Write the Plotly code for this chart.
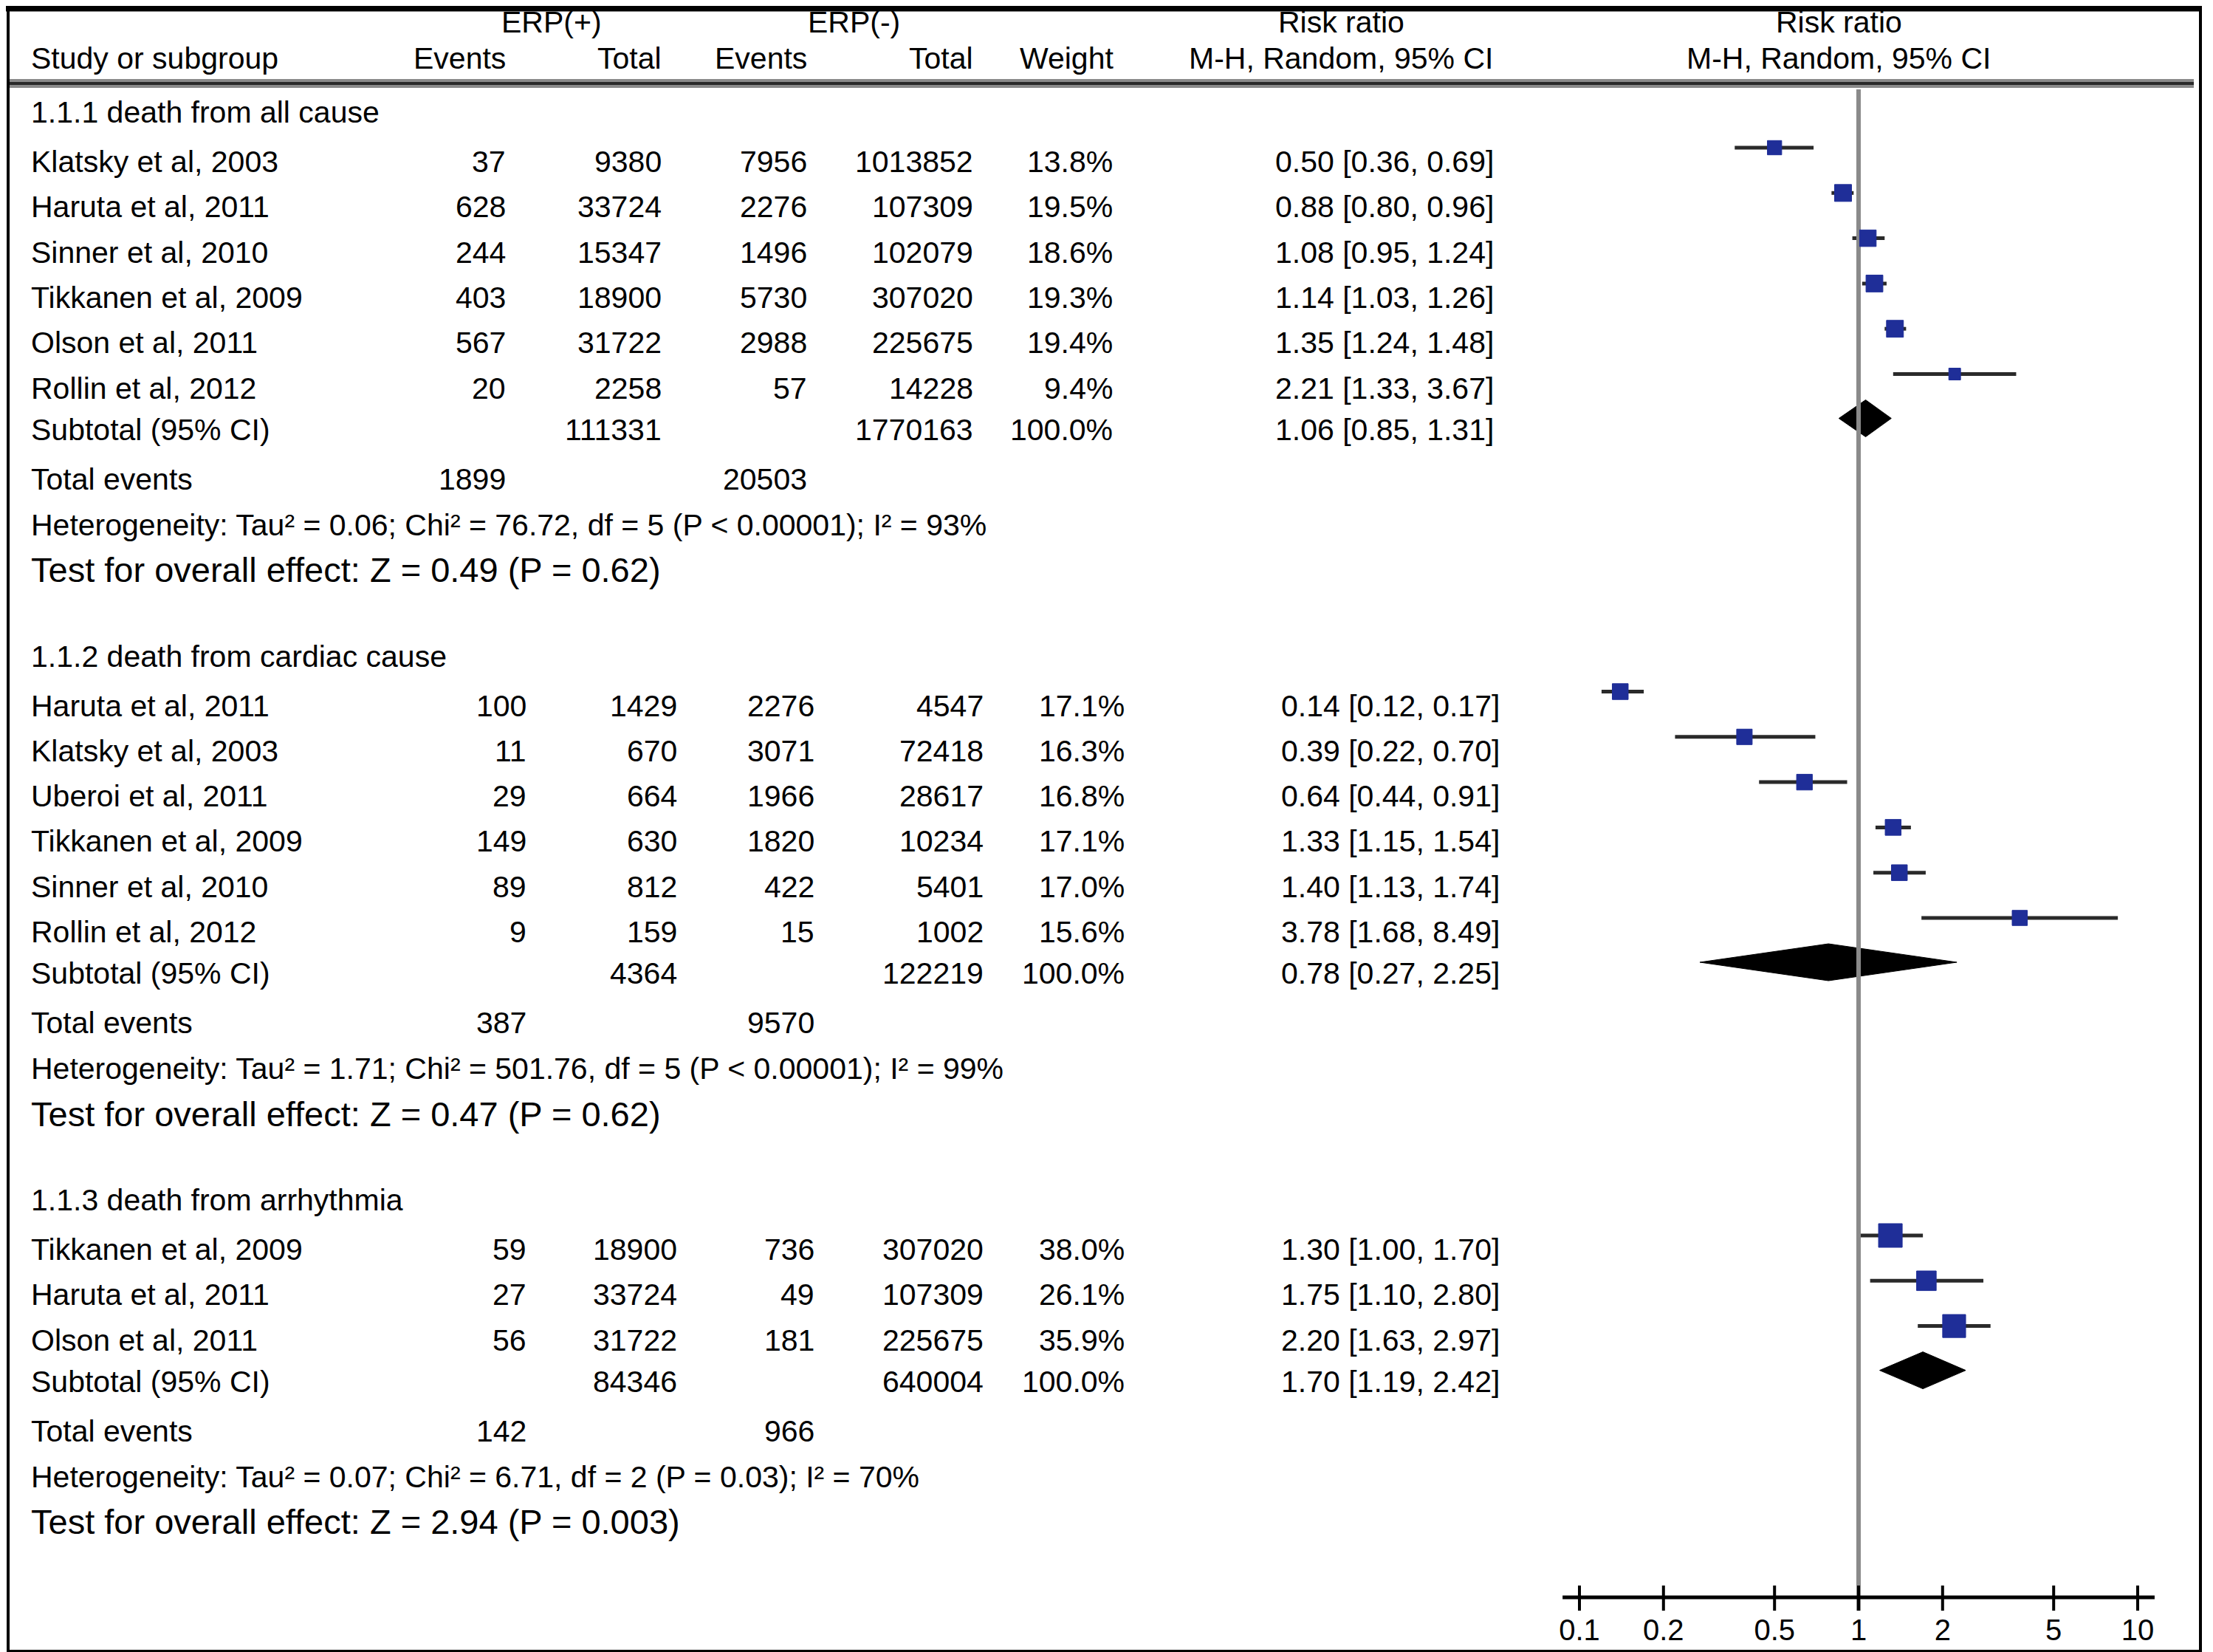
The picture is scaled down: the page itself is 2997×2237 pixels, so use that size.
import math
import plotly.graph_objects as go

# ---------------- data ----------------
group_titles = ["1.1.1 death from all cause",
                "1.1.2 death from cardiac cause",
                "1.1.3 death from arrhythmia"]

g1_studies = ["Klatsky et al, 2003", "Haruta et al, 2011", "Sinner et al, 2010",
              "Tikkanen et al, 2009", "Olson et al, 2011", "Rollin et al, 2012"]
g1_ev_pos = [37, 628, 244, 403, 567, 20]
g1_tot_pos = [9380, 33724, 15347, 18900, 31722, 2258]
g1_ev_neg = [7956, 2276, 1496, 5730, 2988, 57]
g1_tot_neg = [1013852, 107309, 102079, 307020, 225675, 14228]
g1_weight = [13.8, 19.5, 18.6, 19.3, 19.4, 9.4]
g1_rr = [0.50, 0.88, 1.08, 1.14, 1.35, 2.21]
g1_lo = [0.36, 0.80, 0.95, 1.03, 1.24, 1.33]
g1_hi = [0.69, 0.96, 1.24, 1.26, 1.48, 3.67]

g2_studies = ["Haruta et al, 2011", "Klatsky et al, 2003", "Uberoi et al, 2011",
              "Tikkanen et al, 2009", "Sinner et al, 2010", "Rollin et al, 2012"]
g2_ev_pos = [100, 11, 29, 149, 89, 9]
g2_tot_pos = [1429, 670, 664, 630, 812, 159]
g2_ev_neg = [2276, 3071, 1966, 1820, 422, 15]
g2_tot_neg = [4547, 72418, 28617, 10234, 5401, 1002]
g2_weight = [17.1, 16.3, 16.8, 17.1, 17.0, 15.6]
g2_rr = [0.14, 0.39, 0.64, 1.33, 1.40, 3.78]
g2_lo = [0.12, 0.22, 0.44, 1.15, 1.13, 1.68]
g2_hi = [0.17, 0.70, 0.91, 1.54, 1.74, 8.49]

g3_studies = ["Tikkanen et al, 2009", "Haruta et al, 2011", "Olson et al, 2011"]
g3_ev_pos = [59, 27, 56]
g3_tot_pos = [18900, 33724, 31722]
g3_ev_neg = [736, 49, 181]
g3_tot_neg = [307020, 107309, 225675]
g3_weight = [38.0, 26.1, 35.9]
g3_rr = [1.30, 1.75, 2.20]
g3_lo = [1.00, 1.10, 1.63]
g3_hi = [1.70, 2.80, 2.97]

sub_tot_pos = [111331, 4364, 84346]
sub_tot_neg = [1770163, 122219, 640004]
sub_weight = [100.0, 100.0, 100.0]
sub_rr = [1.06, 0.78, 1.70]
sub_lo = [0.85, 0.27, 1.19]
sub_hi = [1.31, 2.25, 2.42]
total_ev_pos = [1899, 387, 142]
total_ev_neg = [20503, 9570, 966]
het_tau2 = ["0.06", "1.71", "0.07"]
het_chi2 = ["76.72", "501.76", "6.71"]
het_df = [5, 5, 2]
het_p = ["P &lt; 0.00001", "P &lt; 0.00001", "P = 0.03"]
het_i2 = [93, 99, 70]
test_z = ["0.49", "0.47", "2.94"]
test_p = ["0.62", "0.62", "0.003"]

tick_vals = [0.1, 0.2, 0.5, 1, 2, 5, 10]
tick_labels = ["0.1", "0.2", "0.5", "1", "2", "5", "10"]

# ---------------- layout constants ----------------
W, H = 2997, 2237
FONT = "Liberation Sans, Arial, sans-serif"
FS = 41
FS_TEST = 47
BLUE = "#1f2e98"
X_ONE = 2509      # pixel position of RR = 1
DECADE = 378      # pixels per decade

# column right edges: group 1 and groups 2/3 are slightly shifted in the source
cols_a = dict(name=32, evp=679, totp=890, evn=1087, totn=1312, wt=1501, ci=2017)
cols_b = dict(name=32, evp=707, totp=911, evn=1097, totn=1326, wt=1517, ci=2025)

groups = [
    dict(studies=g1_studies, evp=g1_ev_pos, totp=g1_tot_pos, evn=g1_ev_neg, totn=g1_tot_neg,
         wt=g1_weight, rr=g1_rr, lo=g1_lo, hi=g1_hi, cols=cols_a),
    dict(studies=g2_studies, evp=g2_ev_pos, totp=g2_tot_pos, evn=g2_ev_neg, totn=g2_tot_neg,
         wt=g2_weight, rr=g2_rr, lo=g2_lo, hi=g2_hi, cols=cols_b),
    dict(studies=g3_studies, evp=g3_ev_pos, totp=g3_tot_pos, evn=g3_ev_neg, totn=g3_tot_neg,
         wt=g3_weight, rr=g3_rr, lo=g3_lo, hi=g3_hi, cols=cols_b),
]

ann = []


def txt(x, y, s, anchor="left", size=FS):
    ann.append(dict(x=x, y=y, xref="x", yref="y", text=s, showarrow=False,
                    xanchor=anchor, yanchor="middle",
                    font=dict(size=size, color="black", family=FONT)))


def ci_text(r, l, h):
    return f"{r:.2f} [{l:.2f}, {h:.2f}]"


fig = go.Figure()

# header
HY1, HY2 = 22, 71
txt(739, HY1, "ERP(+)", "center")
txt(1148, HY1, "ERP(-)", "center")
txt(1808, HY1, "Risk ratio", "center")
txt(2482, HY1, "Risk ratio", "center")
txt(32, HY2, "Study or subgroup")
txt(679, HY2, "Events", "right")
txt(890, HY2, "Total", "right")
txt(1087, HY2, "Events", "right")
txt(1312, HY2, "Total", "right")
txt(1502, HY2, "Weight", "right")
txt(2016, HY2, "M-H, Random, 95% CI", "right")
txt(2482, HY2, "M-H, Random, 95% CI", "center")

MARK_OFF = 19
y = 144.0
for gi, g in enumerate(groups):
    c = g["cols"]
    txt(c["name"], y, group_titles[gi])
    ys = [y + 67 + 61.3 * i for i in range(len(g["studies"]))]
    for i, yy in enumerate(ys):
        txt(c["name"], yy, g["studies"][i])
        txt(c["evp"], yy, str(g["evp"][i]), "right")
        txt(c["totp"], yy, str(g["totp"][i]), "right")
        txt(c["evn"], yy, str(g["evn"][i]), "right")
        txt(c["totn"], yy, str(g["totn"][i]), "right")
        txt(c["wt"], yy, f"{g['wt'][i]:.1f}%", "right")
        txt(c["ci"], yy, ci_text(g["rr"][i], g["lo"][i], g["hi"][i]), "right")
    ysub = ys[-1] + 56
    txt(c["name"], ysub, "Subtotal (95% CI)")
    txt(c["totp"], ysub, str(sub_tot_pos[gi]), "right")
    txt(c["totn"], ysub, str(sub_tot_neg[gi]), "right")
    txt(c["wt"], ysub, f"{sub_weight[gi]:.1f}%", "right")
    txt(c["ci"], ysub, ci_text(sub_rr[gi], sub_lo[gi], sub_hi[gi]), "right")
    ytot = ysub + 67
    txt(c["name"], ytot, "Total events")
    txt(c["evp"], ytot, str(total_ev_pos[gi]), "right")
    txt(c["evn"], ytot, str(total_ev_neg[gi]), "right")
    yhet = ytot + 62
    txt(c["name"], yhet,
        f"Heterogeneity: Tau² = {het_tau2[gi]}; Chi² = {het_chi2[gi]}, "
        f"df = {het_df[gi]} ({het_p[gi]}); I² = {het_i2[gi]}%")
    ytest = yhet + 61
    txt(c["name"], ytest, f"Test for overall effect: Z = {test_z[gi]} (P = {test_p[gi]})",
        size=FS_TEST)

    # forest: CI lines
    ym = [v - MARK_OFF for v in ys]
    lx, ly = [], []
    for i in range(len(ys)):
        lx += [g["lo"][i], g["hi"][i], None]
        ly += [ym[i], ym[i], None]
    fig.add_trace(go.Scatter(x=lx, y=ly, mode="lines", xaxis="x2", yaxis="y",
                             line=dict(color="#2a2a2a", width=5), hoverinfo="skip"))
    g["ym"] = ym
    # diamond
    yc = ysub - 15
    hh = 25
    fig.add_trace(go.Scatter(
        x=[sub_lo[gi], sub_rr[gi], sub_hi[gi], sub_rr[gi], sub_lo[gi]],
        y=[yc, yc - hh, yc, yc + hh, yc],
        mode="lines", fill="toself", fillcolor="black",
        line=dict(color="black", width=1), xaxis="x2", yaxis="y", hoverinfo="skip"))
    y = ytest + 117

# line of no effect
AXIS_Y = 2155
fig.add_trace(go.Scatter(x=[1, 1], y=[113, AXIS_Y + 18], mode="lines", xaxis="x2", yaxis="y",
                         line=dict(color="#8a8a8a", width=6), hoverinfo="skip"))

# study markers
for g in groups:
    fig.add_trace(go.Scatter(
        x=g["rr"], y=g["ym"], mode="markers", xaxis="x2", yaxis="y",
        marker=dict(symbol="square", color=BLUE, opacity=1,
                    size=[5.2 * math.sqrt(w) for w in g["wt"]],
                    line=dict(width=1, color=BLUE)),
        hoverinfo="skip"))

# bottom axis of forest plot
fig.add_trace(go.Scatter(x=[tick_vals[0] * 0.87, tick_vals[-1] * 1.15], y=[AXIS_Y, AXIS_Y],
                         mode="lines", xaxis="x2", yaxis="y",
                         line=dict(color="black", width=5), hoverinfo="skip"))
tx, ty = [], []
for v in tick_vals:
    tx += [v, v, None]
    ty += [AXIS_Y - 16, AXIS_Y + 18, None]
fig.add_trace(go.Scatter(x=tx, y=ty, mode="lines", xaxis="x2", yaxis="y",
                         line=dict(color="black", width=4), hoverinfo="skip"))
fig.add_trace(go.Scatter(x=tick_vals, y=[2203] * len(tick_vals), text=tick_labels,
                         mode="text", xaxis="x2", yaxis="y", textposition="middle center",
                         textfont=dict(size=40, color="black", family=FONT), hoverinfo="skip"))

shapes = [
    # outer frame
    dict(type="rect", xref="x", yref="y", x0=3, x1=2972, y0=3, y1=2228,
         line=dict(color="black", width=4)),
    dict(type="line", xref="x", yref="y", x0=0, x1=2974, y0=3, y1=3,
         line=dict(color="black", width=9)),
    # header rule
    dict(type="rect", xref="x", yref="y", x0=5, x1=2963, y0=99, y1=111,
         line=dict(width=0), fillcolor="#8a8a8a"),
    dict(type="line", xref="x", yref="y", x0=5, x1=2963, y0=105, y1=105,
         line=dict(color="#2a2a2a", width=4)),
]

fig.update_layout(
    width=W, height=H, margin=dict(l=0, r=0, t=0, b=0),
    paper_bgcolor="white", plot_bgcolor="white", showlegend=False,
    xaxis=dict(range=[0, W], visible=False, domain=[0, 1], fixedrange=True),
    xaxis2=dict(type="log", range=[-X_ONE / DECADE, (W - X_ONE) / DECADE],
                overlaying="x", visible=False, domain=[0, 1]),
    yaxis=dict(range=[H, 0], visible=False, domain=[0, 1]),
    annotations=ann, shapes=shapes,
)

fig.write_html("out.html", config={"displayModeBar": False})
